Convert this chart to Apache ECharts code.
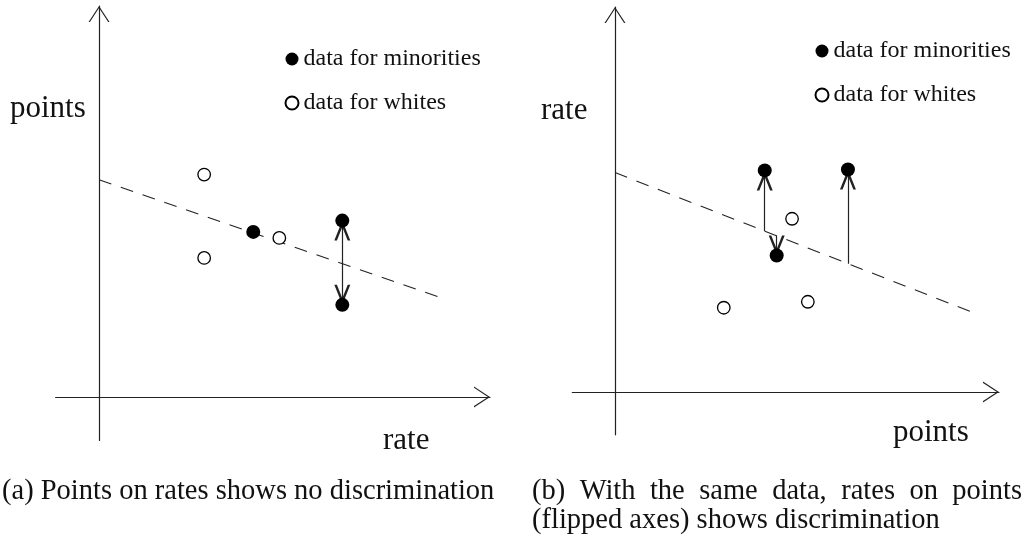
<!DOCTYPE html>
<html><head><meta charset="utf-8">
<script src="https://cdn.jsdelivr.net/npm/echarts@6/dist/echarts.min.js"></script>
<style>html,body{margin:0;padding:0;background:#fff}#c{width:1031px;height:547px}</style>
</head><body><div id="c"></div>
<script>
// ---------- data (panel a: x = rate, y = points) ----------
const aWhites = [[2.42, 5.12], [2.42, 3.20], [4.15, 3.66]];
const aMinorities = [[3.55, 3.80], [5.60, 4.06], [5.60, 2.12]];
const aFitLine = [[0, 5.0], [8.0, 2.24]];
const aDoubleArrow = [[5.60, 4.06], [5.60, 2.12]];
// ---------- data (panel b: x = points, y = rate) ----------
const bWhites = [[4.15, 4.05], [2.55, 1.97], [4.52, 2.11]];
const bMinorities = [[3.51, 5.18], [5.46, 5.20], [3.79, 3.19]];
const bFitLine = [[0, 5.13], [8.36, 1.87]];
const bArrows = [
  [[3.51, 3.76], [3.51, 5.18]],
  [[5.46, 3.00], [5.46, 5.20]],
  [[3.79, 3.65], [3.79, 3.19]]
];
const axisRange = [-1, 9];
const legendNames = ['data for minorities', 'data for whites'];
const axisTitlesA = ['rate', 'points'];
const axisTitlesB = ['points', 'rate'];
const captionA = '(a) Points on rates shows no discrimination';
const captionB1 = '(b) With the same data, rates on points';
const captionB2 = '(flipped axes) shows discrimination';

// ---------- styles ----------
const FONT = '"Liberation Serif", "Times New Roman", serif';
const FAMILY = 'Liberation Serif';
const INK = '#222';
const axisArrow = 'path://M10.5,0 L10.51,0 L10.5,0.01 Z M10.5,16 L0,32 L1.4,32 L10.5,18.1 L19.6,32 L21,32 Z';
const lineArrow = 'path://M0,0 L0.01,0 L0,0.01 Z M40,0 L39.99,0 L40,0.01 Z M20,20 L12,40 L14.6,40 L20,26.5 L25.4,40 L28,40 Z';

function axis(gridIndex) {
  return {
    type: 'value', gridIndex, min: axisRange[0], max: axisRange[1],
    axisLine: { show: true, onZero: true, symbol: ['none', axisArrow], symbolSize: [21, 32],
      lineStyle: { color: INK, width: 1.2 } },
    axisTick: { show: false }, axisLabel: { show: false }, splitLine: { show: false }
  };
}
function whites(data, i) {
  return { type: 'scatter', name: legendNames[1], xAxisIndex: i, yAxisIndex: i, data,
    symbol: 'circle', symbolSize: 12.5,
    itemStyle: { color: '#fff', borderColor: '#000', borderWidth: 1.3, opacity: 1 }, z: 5 };
}
function minorities(data, i) {
  return { type: 'scatter', name: legendNames[0], xAxisIndex: i, yAxisIndex: i, data,
    symbol: 'circle', symbolSize: 14,
    itemStyle: { color: '#000', opacity: 1 }, z: 6 };
}
function fit(data, i) {
  return { type: 'line', xAxisIndex: i, yAxisIndex: i, data, showSymbol: false, symbol: 'none',
    lineStyle: { color: INK, width: 1.1, type: [13, 10] }, silent: true, z: 2 };
}
function arrows(list, i, both) {
  return { type: 'lines', coordinateSystem: 'cartesian2d', xAxisIndex: i, yAxisIndex: i,
    data: list.map(c => ({ coords: c })),
    symbol: both ? [lineArrow, lineArrow] : ['none', lineArrow], symbolSize: 40,
    lineStyle: { color: INK, width: 1.2, opacity: 1 }, silent: true, z: 4 };
}
function legend(left, top) {
  return { orient: 'vertical', left, top, padding: 0, itemWidth: 13, itemHeight: 13, itemGap: 20,
    icon: 'circle', selectedMode: false, data: legendNames,
    textStyle: { fontFamily: FAMILY, fontSize: 24, color: '#111' } };
}
function label(text, x, y, size) {
  return { type: 'text', x, y, silent: true,
    style: { text, font: size + 'px ' + FONT, fill: '#111', verticalAlign: 'middle' } };
}

// justify a caption line between two x positions
const ctx = document.createElement('canvas').getContext('2d');
function justified(text, x0, x1, y, size) {
  ctx.font = size + 'px ' + FONT;
  const words = text.split(' ');
  const widths = words.map(w => ctx.measureText(w).width);
  const total = widths.reduce((a, b) => a + b, 0);
  const gap = (x1 - x0 - total) / (words.length - 1);
  let x = x0;
  return words.map((w, k) => { const el = label(w, x, y, size); x += widths[k] + gap; return el; });
}

const chart = echarts.init(document.getElementById('c'), null, { renderer: 'canvas' });
chart.setOption({
  animation: false,
  backgroundColor: '#fff',
  grid: [
    { left: 55.6, top: 6, width: 434.4, height: 434.4, containLabel: false },
    { left: 572.3, top: 7, width: 426.7, height: 427.8, containLabel: false }
  ],
  xAxis: [axis(0), axis(1)],
  yAxis: [axis(0), axis(1)],
  legend: [legend(284.5, 47), legend(814.5, 39)],
  series: [
    fit(aFitLine, 0), arrows([aDoubleArrow], 0, true), whites(aWhites, 0), minorities(aMinorities, 0),
    fit(bFitLine, 1), arrows(bArrows, 1, false), whites(bWhites, 1), minorities(bMinorities, 1)
  ],
  graphic: [
    label(axisTitlesA[1], 10, 109, 31),
    label(axisTitlesA[0], 383, 441, 31),
    label(axisTitlesB[1], 541, 111, 31),
    label(axisTitlesB[0], 893, 433, 31),
    label(captionA, 2, 492, 28.5),
    ...justified(captionB1, 532, 1022, 492, 28.5),
    label(captionB2, 532, 521, 28.5)
  ]
});
</script></body></html>
